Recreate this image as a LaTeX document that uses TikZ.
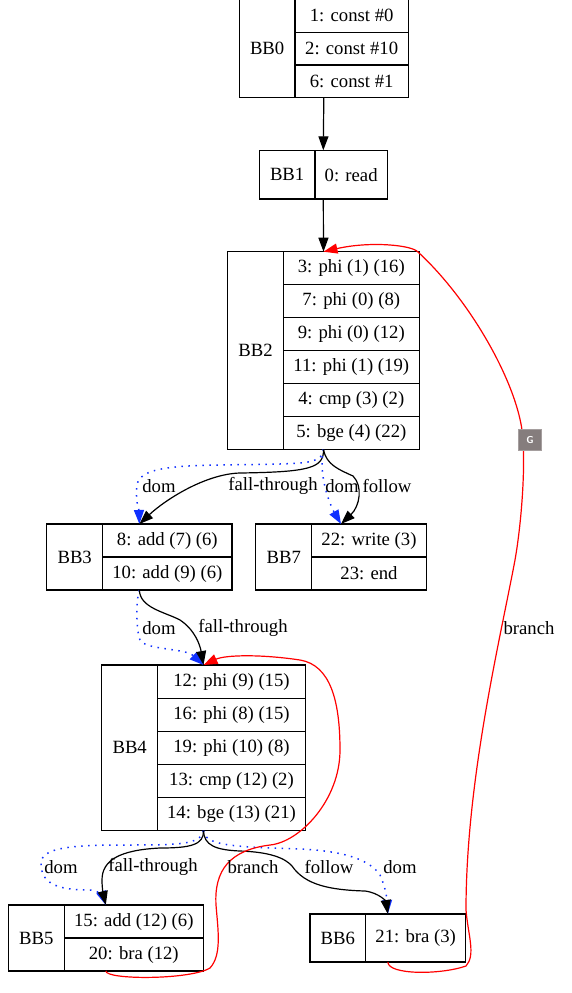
\documentclass[tikz,border=0pt]{standalone}
\usepackage{fontspec}
\setmainfont{Liberation Serif}
\usetikzlibrary{arrows.meta,fit,calc}
\definecolor{domblue}{RGB}{16,48,255}
\definecolor{brred}{RGB}{255,0,0}
\definecolor{gbox}{RGB}{133,125,125}
\definecolor{gborder}{RGB}{165,158,158}
\begin{document}
\begin{tikzpicture}[x=1pt,y=-1pt,
 font=\fontsize{18.7}{22}\selectfont,
 cell/.style={draw, line width=1.2pt, rectangle, inner sep=0pt, outer sep=0pt, anchor=north west},
 grp/.style={inner sep=0pt, outer sep=0pt, rectangle},
 edge/.style={line width=1.2pt, -{Triangle[length=14pt,width=10pt]}},
 domedge/.style={domblue, line width=1.5pt, dash pattern=on 1.5pt off 5.5pt, -{Triangle[length=14pt,width=10pt]}},
 bredge/.style={brred, line width=1.2pt, -{Triangle[length=14pt,width=10pt]}},
 lbl/.style={inner sep=0pt},
]
\useasboundingbox (0,0) rectangle (572,993);

% BB0
\node[cell, minimum width=55.7pt, minimum height=98.2pt] (bb0l) at (239.3,-0.5) {BB0};
\node[cell, minimum width=113.3pt, minimum height=32.73pt] (bb0a) at (295,-0.5) {1: const \#0};
\node[cell, minimum width=113.3pt, minimum height=32.73pt] (bb0b) at (295,32.23) {2: const \#10};
\node[cell, minimum width=113.3pt, minimum height=32.73pt] (bb0c) at (295,64.97) {6: const \#1};
\node[grp, fit=(bb0l)(bb0c)] (bb0) {};

% BB1
\node[cell, minimum width=55.7pt, minimum height=48.7pt] (bb1l) at (259.3,150.3) {BB1};
\node[cell, minimum width=72.3pt, minimum height=48.7pt] (bb1a) at (315,150.3) {0: read};
\node[grp, fit=(bb1l)(bb1a)] (bb1) {};

% BB2
\node[cell, minimum width=55.6pt, minimum height=197.6pt] (bb2l) at (227.7,251.7) {BB2};
\node[cell, minimum width=136pt, minimum height=32.93pt] (bb2a) at (283.3,251.7) {3: phi (1) (16)};
\node[cell, minimum width=136pt, minimum height=32.93pt] (bb2b) at (283.3,284.63) {7: phi (0) (8)};
\node[cell, minimum width=136pt, minimum height=32.93pt] (bb2c) at (283.3,317.57) {9: phi (0) (12)};
\node[cell, minimum width=136pt, minimum height=32.93pt] (bb2d) at (283.3,350.5) {11: phi (1) (19)};
\node[cell, minimum width=136pt, minimum height=32.93pt] (bb2e) at (283.3,383.43) {4: cmp (3) (2)};
\node[cell, minimum width=136pt, minimum height=32.93pt] (bb2f) at (283.3,416.37) {5: bge (4) (22)};
\node[grp, fit=(bb2l)(bb2f)] (bb2) {};

% BB3
\node[cell, minimum width=56pt, minimum height=66pt] (bb3l) at (46.7,524) {BB3};
\node[cell, minimum width=129.3pt, minimum height=33pt] (bb3a) at (102.7,524) {8: add (7) (6)};
\node[cell, minimum width=129.3pt, minimum height=33pt] (bb3b) at (102.7,557) {10: add (9) (6)};
\node[grp, fit=(bb3l)(bb3b)] (bb3) {};

% BB7
\node[cell, minimum width=56pt, minimum height=66pt] (bb7l) at (255.7,524) {BB7};
\node[cell, minimum width=114.6pt, minimum height=33pt] (bb7a) at (311.7,524) {22: write (3)};
\node[cell, minimum width=114.6pt, minimum height=33pt] (bb7b) at (311.7,557) {23: end};
\node[grp, fit=(bb7l)(bb7b)] (bb7) {};

% BB4
\node[cell, minimum width=56pt, minimum height=165.7pt] (bb4l) at (101.7,665) {BB4};
\node[cell, minimum width=147.6pt, minimum height=33.14pt] (bb4a) at (157.7,665) {12: phi (9) (15)};
\node[cell, minimum width=147.6pt, minimum height=33.14pt] (bb4b) at (157.7,698.14) {16: phi (8) (15)};
\node[cell, minimum width=147.6pt, minimum height=33.14pt] (bb4c) at (157.7,731.28) {19: phi (10) (8)};
\node[cell, minimum width=147.6pt, minimum height=33.14pt] (bb4d) at (157.7,764.42) {13: cmp (12) (2)};
\node[cell, minimum width=147.6pt, minimum height=33.14pt] (bb4e) at (157.7,797.56) {14: bge (13) (21)};
\node[grp, fit=(bb4l)(bb4e)] (bb4) {};

% BB5
\node[cell, minimum width=56pt, minimum height=66pt] (bb5l) at (8.3,905) {BB5};
\node[cell, minimum width=139pt, minimum height=33pt] (bb5a) at (64.3,905) {15: add (12) (6)};
\node[cell, minimum width=139pt, minimum height=33pt] (bb5b) at (64.3,938) {20: bra (12)};
\node[grp, fit=(bb5l)(bb5b)] (bb5) {};

% BB6
\node[cell, minimum width=55.7pt, minimum height=48pt] (bb6l) at (310,914) {BB6};
\node[cell, minimum width=100pt, minimum height=48pt] (bb6a) at (365.7,914) {21: bra (3)};
\node[grp, fit=(bb6l)(bb6a)] (bb6) {};

% straight edges
\draw[edge] (bb0.south) -- (bb1.north);
\draw[edge] (bb1.south) -- (bb2.north);

% BB2 -> BB3
\draw[domedge] (bb2.south) .. controls (322,462) and (310,463) .. (280,464)
  .. controls (200,466) and (140,462) .. (137,485)
  .. controls (135,500) and (139,510) .. (bb3.north);
\draw[edge] (bb2.south) .. controls (324,468) and (310,472) .. (240,473)
  .. controls (205,474) and (165,500) .. (bb3.north);
% BB2 -> BB7
\draw[domedge] (bb2.south) .. controls (318,475) and (330,505) .. (bb7.north);
\draw[edge] (bb2.south) .. controls (326,465) and (340,470) .. (353,476)
  .. controls (363,486) and (360,506) .. (bb7.north);
% BB3 -> BB4
\draw[domedge] (bb3.south) .. controls (136,600) and (136,630) .. (140,640)
  .. controls (145,650) and (185,648) .. (bb4.north);
\draw[edge] (bb3.south) .. controls (140,608) and (165,612) .. (180,620)
  .. controls (195,630) and (200,645) .. (bb4.north);
% BB4 -> BB5
\draw[domedge] (bb4.south) .. controls (200,845) and (180,845) .. (120,845)
  .. controls (60,845) and (40,850) .. (41,865)
  .. controls (42,885) and (60,890) .. (90,890)
  .. controls (98,890) and (103,897) .. (bb5.north);
\draw[edge] (bb4.south) .. controls (204,845) and (190,848) .. (160,848)
  .. controls (120,850) and (102,860) .. (102,880)
  .. controls (102,890) and (104,897) .. (bb5.north);
% BB4 -> BB6
\draw[domedge] (bb4.south) .. controls (205,845) and (230,847) .. (300,849)
  .. controls (345,851) and (370,860) .. (380,875)
  .. controls (386,888) and (387,900) .. (bb6.north);
\draw[edge] (bb4.south) .. controls (204,845) and (215,850) .. (240,851)
  .. controls (270,852) and (285,858) .. (292,866)
  .. controls (305,885) and (330,890) .. (365,891)
  .. controls (380,893) and (386,902) .. (bb6.north);

% red branch BB5 -> BB4
\draw[bredge] (bb5.south) .. controls (106,980) and (190,980) .. (210,968)
  .. controls (222,955) and (218,930) .. (216,905)
  .. controls (214,870) and (230,850) .. (270,845)
  .. controls (300,842) and (340,800) .. (340,750)
  .. controls (340,700) and (330,665) .. (300,660)
  .. controls (260,654) and (225,655) .. (bb4.north);
% red branch BB6 -> BB2
\draw[bredge] (bb6.south) .. controls (388,975) and (440,975) .. (466,966)
  .. controls (476,955) and (468,935) .. (466,910)
  .. controls (466,780) and (500,640) .. (515,560)
  .. controls (522,520) and (526,460) .. (522,430)
  .. controls (515,380) and (470,300) .. (418,252)
  .. controls (412,245) and (370,241) .. (bb2.north);

% labels
\node[lbl] (l1) at (159,486) {dom};
\node[lbl] (l2) at (273,486) {fall-through};
\node[lbl] (l3) at (342,486) {dom};
\node[lbl] (l4) at (387,486) {follow};
\node[lbl] (l5) at (159,628) {dom};
\node[lbl] (l6) at (243,628) {fall-through};
\node[lbl] (l7) at (61,867) {dom};
\node[lbl] (l8) at (153,867) {fall-through};
\node[lbl] (l9) at (253,867) {branch};
\node[lbl] (l10) at (329,867) {follow};
\node[lbl] (l11) at (400,867) {dom};
\node[lbl] (l12) at (529,628) {branch};

% G badge
\node[draw=gborder, fill=gbox, line width=0.8pt, minimum width=23pt, minimum height=21pt, inner sep=0pt, text=white, font=\sffamily\bfseries\fontsize{10}{12}\selectfont] (gbadge) at (530,440) {G};
\end{tikzpicture}
\end{document}
